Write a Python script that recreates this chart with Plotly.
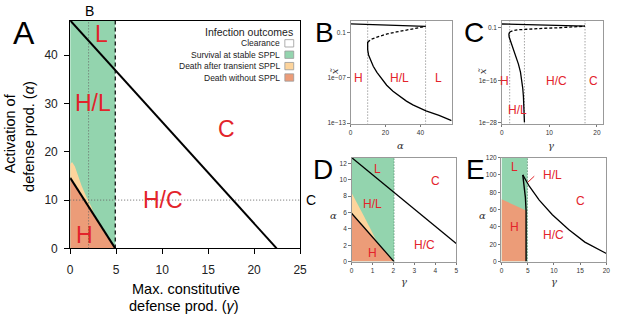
import math
import plotly.graph_objects as go

W, H = 617, 323
def px(x): return x / W
def py(y): return 1 - y / H

C_GREEN = "#93D4AE"
C_PEACH = "#FDD49C"
C_RED = "#EC9C78"
C_LABEL = "#E3242B"
SANS = "Liberation Sans, Arial, sans-serif"
SERIF = "DejaVu Serif, serif"
DOT = "1px,2px"
DASH = "4px,3px"

# ---------------- Panel A data ----------------
a_sppl_g = [0, 4.9, 4.9, 0]
a_sppl_a = [0, 0, 47.2, 47.2]
a_peach_g = [0, 0.2, 0.5, 0.75, 1.25, 1.78, 2.3, 2.75, 0]
a_peach_a = [17.4, 17.9, 17.0, 15.6, 12.9, 10.6, 8.6, 6.4, 14.6]
a_death_g = [0, 0, 4.9]
a_death_a = [0, 14.6, 0]
a_upper_g = [0, 22.45]
a_upper_a = [47.2, 0]
a_lower_g = [0, 4.9]
a_lower_a = [14.6, 0]
a_dash_g = 4.9
a_markB_g = 2.0
a_markC_a = 10.0
a_labels = ["L", "H/L", "C", "H/C", "H"]
a_label_g = [3.4, 2.5, 17.0, 10.1, 1.55]
a_label_a = [44.3, 30.0, 24.7, 10.1, 2.7]
legend_title = "Infection outcomes"
legend_labels = ["Clearance", "Survival at stable SPPL", "Death after transient SPPL", "Death without SPPL"]
legend_colors = ["#FFFFFF", C_GREEN, C_PEACH, C_RED]

# ---------------- Panel B data (alpha vs x~) ----------------
b_top_alpha = [0, 43.0]
b_top_x = [1.26, 0.59]
b_dash_alpha = [9.8, 12, 16.9, 21, 26.3, 31, 35.7, 40, 43.0]
b_dash_x = [5.0e-3, 1.26e-2, 3.1e-2, 6.0e-2, 0.11, 0.178, 0.28, 0.43, 0.59]
b_low_alpha = [9.8, 9.8, 10.3, 11.3, 13, 15.1, 17.5, 20.7, 24.3, 28.3, 32, 35.7, 43.2, 50.7, 57.9]
b_low_x = [5.0e-3, 5.0e-4, 1.0e-4, 2.5e-5, 3.2e-6, 5.0e-7, 7.9e-8, 1.0e-8, 1.6e-9,
           3.2e-10, 7.9e-11, 2.5e-11, 4.0e-12, 1.0e-12, 2.1e-13]
b_vlines = [9.8, 43.0]
b_labels = ["H", "H/L", "L"]
b_label_alpha = [4.7, 28.2, 50.4]
b_label_x = [1e-7, 1e-7, 1e-7]

# ---------------- Panel C data (gamma vs x~) ----------------
c_top_gamma = [0, 17.5]
c_top_x = [1.26, 0.30]
c_dash_gamma = [1.66, 2.3, 3.4, 6.1, 9, 11.7, 14.5, 17.5]
c_dash_x = [6.6e-3, 1.6e-2, 2.8e-2, 5.4e-2, 7.6e-2, 0.1, 0.16, 0.30]
c_low_gamma = [1.66, 1.5, 1.55, 2.0, 2.5, 3.0, 3.5, 3.93, 4.2, 4.41, 4.55, 4.62, 4.7, 4.76]
c_low_x = [6.6e-3, 1.6e-3, 2.5e-4, 4.0e-6, 6.3e-8, 8.9e-10, 5.0e-12, 2.5e-14, 1.3e-16,
           6.3e-19, 3.2e-21, 1.6e-23, 5.0e-26, 1.6e-28]
c_vlines = [1.66, 4.76, 17.5]
c_labels = ["H", "H/C", "C", "H/L"]
c_label_gamma = [0.5, 11.5, 19.3, 3.4]
c_label_x = [1e-16, 1e-16, 1e-16, 6e-25]

# ---------------- Panel D data ----------------
d_sppl_g = [0, 2.03, 2.03, 0]
d_sppl_a = [0, 0, 12.7, 12.7]
d_peach_g = [0, 0.3, 0.6, 0.9, 1.2, 0]
d_peach_a = [8.4, 7.0, 5.5, 4.0, 2.45, 5.9]
d_death_g = [0, 0, 2.03]
d_death_a = [0, 5.9, 0]
d_upper_g = [0, 5]
d_upper_a = [12.7, 2.2]
d_lower_g = [0, 2.03]
d_lower_a = [5.9, 0]
d_vline = 2.03
d_labels = ["L", "C", "H/L", "H/C", "H"]
d_label_g = [1.25, 4.0, 1.0, 3.5, 1.0]
d_label_a = [11.3, 9.9, 7.0, 2.0, 1.0]

# ---------------- Panel E data ----------------
e_sppl_g = [0, 4.95, 4.95, 0]
e_sppl_a = [0, 0, 120, 120]
e_death_g = [0, 0, 4.69, 4.69]
e_death_a = [0, 72, 59, 0]
e_hl_g = [4.06, 4.31, 4.56, 4.69, 4.69]
e_hl_a = [100, 89, 74, 59, 0]
e_c_g = [4.06, 5.3, 7.2, 9.7, 12.8, 15.9, 20]
e_c_a = [100, 87, 71, 54, 37, 22.5, 9.4]
e_vline = 4.95
e_labels = ["L", "C", "H", "H/C"]
e_label_g = [2.4, 15.0, 2.5, 10.0]
e_label_a = [109, 70, 40, 31]
e_hl_text = "H/L"
e_xticks = [0, 5, 10, 15, 20]
e_yticks = [0, 20, 40, 60, 80, 100, 120]

fig = go.Figure()

def poly(xs, ys, color, xa, ya):
    fig.add_trace(go.Scatter(x=xs, y=ys, fill="toself", fillcolor=color, mode="lines",
                             line=dict(width=0), hoverinfo="skip", showlegend=False,
                             xaxis=xa, yaxis=ya))

def line(xs, ys, xa, ya, width=1.2, dash="solid", color="black"):
    fig.add_trace(go.Scatter(x=xs, y=ys, mode="lines", line=dict(color=color, width=width, dash=dash),
                             hoverinfo="skip", showlegend=False, xaxis=xa, yaxis=ya))

# Panel A
poly(a_sppl_g, a_sppl_a, C_GREEN, "x", "y")
poly(a_peach_g, a_peach_a, C_PEACH, "x", "y")
poly(a_death_g, a_death_a, C_RED, "x", "y")
line([a_markB_g, a_markB_g], [0, 47.2], "x", "y", width=1, dash=DOT, color="#666")
line([0, 25], [a_markC_a, a_markC_a], "x", "y", width=1, dash=DOT, color="#666")
line([a_dash_g, a_dash_g], [0, 47.2], "x", "y", width=1.2, dash=DASH)
line(a_upper_g, a_upper_a, "x", "y", width=2)
line(a_lower_g, a_lower_a, "x", "y", width=2)

# Panel B
for v in b_vlines:
    line([v, v], [1e-14, 10], "x2", "y2", width=1, dash=DOT, color="#777")
line(b_top_alpha, b_top_x, "x2", "y2", width=1.3)
line(b_dash_alpha, b_dash_x, "x2", "y2", width=1.3, dash="3px,2px")
line(b_low_alpha, b_low_x, "x2", "y2", width=1.3)

# Panel C
for v in c_vlines:
    line([v, v], [1e-29, 100], "x3", "y3", width=1, dash=DOT, color="#777")
line(c_top_gamma, c_top_x, "x3", "y3", width=1.3)
line(c_dash_gamma, c_dash_x, "x3", "y3", width=1.3, dash="3px,2px")
line(c_low_gamma, c_low_x, "x3", "y3", width=1.3)

# Panel D
poly(d_sppl_g, d_sppl_a, C_GREEN, "x4", "y4")
poly(d_peach_g, d_peach_a, C_PEACH, "x4", "y4")
poly(d_death_g, d_death_a, C_RED, "x4", "y4")
line([d_vline, d_vline], [0, 12.7], "x4", "y4", width=1, dash=DOT, color="#4f7f66")
line(d_upper_g, d_upper_a, "x4", "y4", width=1.3)
line(d_lower_g, d_lower_a, "x4", "y4", width=1.3)

# Panel E
poly(e_sppl_g, e_sppl_a, C_GREEN, "x5", "y5")
poly(e_death_g, e_death_a, C_RED, "x5", "y5")
line([e_vline, e_vline], [0, 120], "x5", "y5", width=1, dash=DOT, color="#4f7f66")
line(e_hl_g, e_hl_a, "x5", "y5", width=1.4)
line(e_c_g, e_c_a, "x5", "y5", width=1.3)

ann = []
def txt(x, y, s, size, color="black", xref="paper", yref="paper", font=SANS, angle=0, xanchor="center"):
    ann.append(dict(x=x, y=y, xref=xref, yref=yref, text=s, showarrow=False, textangle=angle,
                    font=dict(size=size, color=color, family=font), xanchor=xanchor, yanchor="middle"))

for s, g, a in zip(a_labels, a_label_g, a_label_a):
    txt(g, a, s, 23, C_LABEL, "x", "y")
for s, g, a in zip(b_labels, b_label_alpha, b_label_x):
    txt(g, math.log10(a), s, 12, C_LABEL, "x2", "y2")
for s, g, a in zip(c_labels, c_label_gamma, c_label_x):
    txt(g, math.log10(a), s, 12, C_LABEL, "x3", "y3")
for s, g, a in zip(d_labels, d_label_g, d_label_a):
    txt(g, a, s, 12, C_LABEL, "x4", "y4")
for s, g, a in zip(e_labels, e_label_g, e_label_a):
    txt(g, a, s, 12, C_LABEL, "x5", "y5")
txt(px(558.3), py(176.7), e_hl_text, 12, C_LABEL)

# panel letters
txt(px(21), py(30), "A", 32)
txt(px(326.5), py(30), "B", 28)
txt(px(479), py(30), "C", 28)
txt(px(325), py(171.7), "D", 28)
txt(px(480), py(171.7), "E", 28)
txt(px(88), py(7), "B", 14)
txt(px(313), py(203), "C", 14)

# axis titles A
txt(px(186), py(295), "Max. constitutive", 14.5)
txt(px(184), py(313), "defense prod. (<i>γ</i>)", 14.5)
txt(px(8), py(134), "Activation of", 14.5, angle=-90)
txt(px(27), py(137), "defense prod. (<i>α</i>)", 14.5, angle=-90)

# axis titles B-E
txt(px(337), py(70), "<i>x̃</i>", 10, "#333", font=SERIF, angle=-90)
txt(px(487.5), py(70), "<i>x̃</i>", 10, "#333", font=SERIF, angle=-90)
txt(px(404.3), py(146.5), "<i>α</i>", 10, "#333", font=SERIF)
txt(px(556.7), py(146.5), "<i>γ</i>", 10, "#333", font=SERIF)
txt(px(335.5), py(219), "<i>α</i>", 10, "#333", font=SERIF)
txt(px(487.5), py(219), "<i>α</i>", 10, "#333", font=SERIF)
txt(px(407.3), py(287), "<i>γ</i>", 10, "#333", font=SERIF)
txt(px(560), py(287), "<i>γ</i>", 10, "#333", font=SERIF)

# legend
txt(px(296.5), py(29), legend_title, 10.5, "#222", xanchor="right")
shapes = []
for i, (lab, col) in enumerate(zip(legend_labels, legend_colors)):
    yc = 40.7 + i * 11.8
    txt(px(283.5), py(yc), lab, 8.5, "#222", xanchor="right")
    shapes.append(dict(type="rect", xref="paper", yref="paper", x0=px(286.5), x1=px(295.5),
                       y0=py(yc + 3.8), y1=py(yc - 3.8), fillcolor=col,
                       line=dict(color="#999", width=0.8)))
# E pointer line
shapes.append(dict(type="line", xref="paper", yref="paper", x0=px(540), y0=py(178.3),
                   x1=px(533.5), y1=py(184.5), line=dict(color=C_LABEL, width=1)))

def axA(domain, rng, tickvals):
    return dict(domain=domain, range=rng, tickvals=tickvals, ticks="outside", ticklen=5,
                tickcolor="black", showline=True, mirror=True, linecolor="black", linewidth=1,
                showgrid=False, zeroline=False, ticklabeloverflow="allow",
                tickfont=dict(size=12, family=SANS, color="#222"))

def axS(domain, rng, tickvals, ticktext=None, log=False):
    d = dict(domain=domain, range=rng, tickvals=tickvals, ticks="outside", ticklen=2.5,
             tickcolor="#777", showline=True, mirror=True, linecolor="#999", linewidth=1,
             showgrid=False, zeroline=False, ticklabeloverflow="allow",
             tickfont=dict(size=6.5, family=SANS, color="#333"))
    if ticktext is not None:
        d["ticktext"] = ticktext
    if log:
        d["type"] = "log"
    return d

fig.update_layout(
    width=W, height=H, margin=dict(l=0, r=0, t=0, b=0),
    paper_bgcolor="white", plot_bgcolor="white", showlegend=False,
    xaxis=dict(axA([px(68.3), px(302)], [0, 25], [0, 5, 10, 15, 20, 25]), anchor="y", ticklabelstandoff=5),
    yaxis=dict(axA([py(253), py(17.5)], [0, 47.1], [0, 10, 20, 30, 40]), anchor="x", ticklabelstandoff=4),
    xaxis2=dict(axS([px(353.3), px(456)], [0, 57.9], [0, 20, 40]), anchor="y2"),
    yaxis2=dict(axS([py(124), py(17.3)], [-13.1, 0.53], [0.1, 1e-7, 1e-13], ["0.1", "1e−07", "1e−13"], log=True), anchor="x2"),
    xaxis3=dict(axS([px(507), px(609.5)], [0, 21.2], [0, 10, 20]), anchor="y3"),
    yaxis3=dict(axS([py(124), py(17.3)], [-28.27, 1.03], [0.1, 1e-16, 1e-28], ["0.1", "1e−16", "1e−28"], log=True), anchor="x3"),
    xaxis4=dict(axS([px(354.3), px(460.7)], [0, 5.001], [0, 1, 2, 3, 4, 5]), anchor="y4"),
    yaxis4=dict(axS([py(266.7), py(159)], [0, 12.7], [0, 2, 4, 6, 8, 10, 12]), anchor="x4"),
    xaxis5=dict(axS([px(506.7), px(613.3)], [0, 20.001], e_xticks), anchor="y5"),
    yaxis5=dict(axS([py(266.7), py(159)], [0, 120.01], e_yticks), anchor="x5"),
    annotations=ann, shapes=shapes,
)

fig.write_html(
    "out.html",
    config={"displayModeBar": False},
    post_script="document.body.style.margin='0';document.body.style.padding='0';"
                "document.body.style.overflow='hidden';",
)
